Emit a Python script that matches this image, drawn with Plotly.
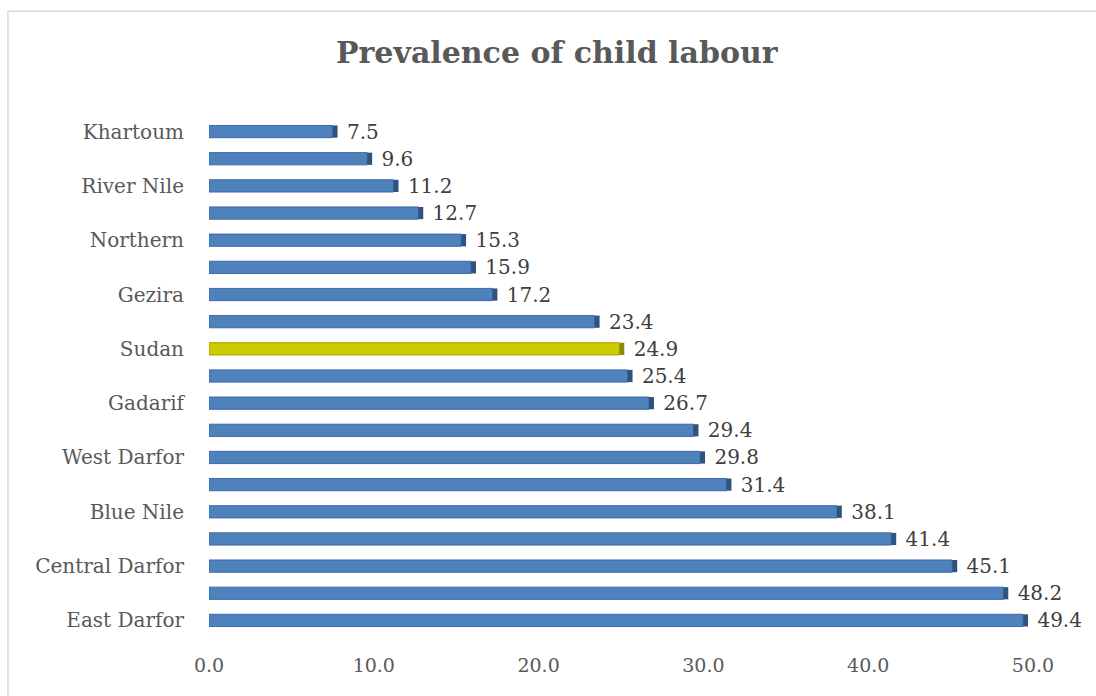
import plotly.graph_objects as go

regions = ["Khartoum", "White Nile", "River Nile", "Sennar", "Northern", "Kassala",
           "Gezira", "North Kordofan", "Sudan", "Red Sea", "Gadarif", "South Kordofan",
           "West Darfor", "North Darfor", "Blue Nile", "West Kordofan", "Central Darfor",
           "South Darfor", "East Darfor"]
prevalence = [7.5, 9.6, 11.2, 12.7, 15.3, 15.9, 17.2, 23.4, 24.9, 25.4, 26.7, 29.4,
              29.8, 31.4, 38.1, 41.4, 45.1, 48.2, 49.4]
shown_labels = ["Khartoum", "River Nile", "Northern", "Gezira", "Sudan", "Gadarif",
                "West Darfor", "Blue Nile", "Central Darfor", "East Darfor"]
x_ticks = [0, 10, 20, 30, 40, 50]
highlight = "Sudan"

face = ["#CCCC00" if r == highlight else "#4F81BD" for r in regions]
edge = ["#A3A300" if r == highlight else "#3A6AA5" for r in regions]
cap = ["#8C8C00" if r == highlight else "#2F527E" for r in regions]

FONT = "DejaVu Serif"
TXT = "#595959"

fig = go.Figure()
fig.add_trace(go.Bar(
    y=regions, x=prevalence, orientation="h",
    marker=dict(color=face, line=dict(color=edge, width=1)),
    width=0.45, hoverinfo="skip", showlegend=False,
))
fig.add_trace(go.Bar(
    y=regions, x=[0.3] * len(regions), base=prevalence, orientation="h",
    marker=dict(color=cap, line=dict(width=0)),
    width=0.45, showlegend=False,
    text=[f" {v:.1f}" for v in prevalence], textposition="outside",
    constraintext="none",
    textfont=dict(family=FONT, size=20, color="#404040"),
    cliponaxis=False,
))

fig.update_layout(
    width=1096, height=696,
    barmode="overlay",
    paper_bgcolor="white", plot_bgcolor="white",
    margin=dict(l=209, r=63, t=118, b=62),
    title=dict(text="<b>Prevalence of child labour</b>", x=0.508, xanchor="center",
               y=0.925, yanchor="middle",
               font=dict(family=FONT, size=30, color=TXT)),
    xaxis=dict(range=[0, 50], tickvals=x_ticks, tickformat=".1f", showgrid=False,
               zeroline=False, showline=False, ticks="",
               tickfont=dict(family=FONT, size=19, color=TXT), ticklabelstandoff=18),
    yaxis=dict(autorange="reversed", tickvals=shown_labels, showgrid=False,
               showline=False, ticks="",
               tickfont=dict(family=FONT, size=20, color=TXT), ticklabelstandoff=24),
    shapes=[dict(type="rect", xref="paper", yref="paper", x0=-0.244, x1=1.2,
                 y0=-0.2, y1=1.207, line=dict(color="#D9D9D9", width=1.5),
                 fillcolor="rgba(0,0,0,0)", layer="below")],
)

fig.write_html("out.html")
